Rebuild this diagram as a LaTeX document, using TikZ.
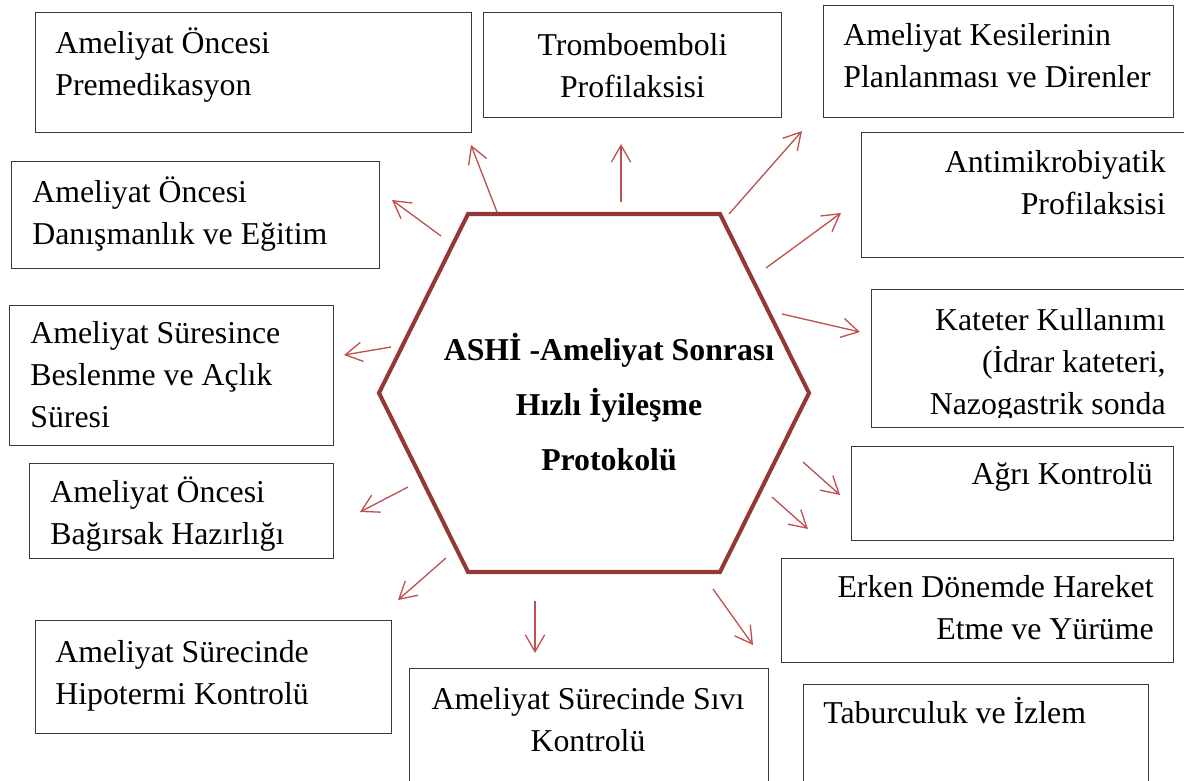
\documentclass[tikz,border=0pt]{standalone}
\usepackage{fontspec}
\setmainfont{Liberation Serif}
\usepackage{tikz}
\usetikzlibrary{arrows.meta,positioning}
\definecolor{okkirmizi}{HTML}{C0504D}
\definecolor{altigen}{HTML}{953735}
\definecolor{cerceve}{HTML}{3A3A3A}

\tikzset{
  kutu/.style={draw=cerceve,line width=0.6pt,anchor=north west,inner sep=0pt},
  yazi/.style={inner sep=0pt,font=\fontsize{18.1}{23.8}\selectfont},
  ok/.style={draw=okkirmizi,line width=0.75pt,-{Straight Barb[length=9.6pt,width=11pt]}}
}

\begin{document}
\begin{tikzpicture}[x=0.02cm,y=-0.02cm]
\useasboundingbox (0,0) rectangle (1184,781);

% kutular
\node[kutu,minimum width=8.72cm,minimum height=2.4cm] (premed) at (35,12) {};
\node[kutu,minimum width=5.96cm,minimum height=2.1cm] (trombo) at (483,12) {};
\node[kutu,minimum width=7cm,minimum height=2.24cm] (kesi) at (823,5) {};
\node[kutu,minimum width=6.58cm,minimum height=2.5cm] (antimik) at (861,132) {};
\node[kutu,minimum width=6.38cm,minimum height=2.76cm] (kateter) at (871,289) {};
\node[kutu,minimum width=6.44cm,minimum height=1.88cm] (agri) at (851,446) {};
\node[kutu,minimum width=7.84cm,minimum height=2.08cm] (erken) at (781,558) {};
\node[kutu,minimum width=6.9cm,minimum height=2.4cm] (tabur) at (803,684) {};
\node[kutu,minimum width=7.18cm,minimum height=2.6cm] (sivi) at (409,668) {};
\node[kutu,minimum width=7.12cm,minimum height=2.26cm] (hipo) at (35,620) {};
\node[kutu,minimum width=6.08cm,minimum height=1.9cm] (bagir) at (29,463) {};
\node[kutu,minimum width=6.48cm,minimum height=2.8cm] (besle) at (9,305) {};
\node[kutu,minimum width=7.36cm,minimum height=2.14cm] (danis) at (11,161) {};

% yazilar (base = son satir)
\node[yazi,anchor=base west,align=left] (premed-y) at ([shift={(20,83)}]premed.north west) {Ameliyat Öncesi\\Premedikasyon};
\node[yazi,anchor=base,align=center] (trombo-y) at ([shift={(0,85)}]trombo.north) {Tromboemboli\\Profilaksisi};
\node[yazi,anchor=base west,align=left] (kesi-y) at ([shift={(20,82)}]kesi.north west) {Ameliyat Kesilerinin\\Planlanması ve Direnler};
\node[yazi,anchor=base east,align=right] (antimik-y) at ([shift={(-25,82)}]antimik.north east) {Antimikrobiyatik\\Profilaksisi};
\begin{scope}
\clip (kateter.north west) rectangle (1190,417);
\node[yazi,anchor=base east,align=right] (kateter-y) at ([shift={(-25,125)}]kateter.north east) {Kateter Kullanımı\\(İdrar kateteri,\\Nazogastrik sonda};
\end{scope}
\node[yazi,anchor=base east,align=right] (agri-y) at ([shift={(-21,38)}]agri.north east) {Ağrı Kontrolü};
\node[yazi,anchor=base east,align=right] (erken-y) at ([shift={(-20,81)}]erken.north east) {Erken Dönemde Hareket\\Etme ve Yürüme};
\node[yazi,anchor=base west,align=left] (tabur-y) at ([shift={(20,39)}]tabur.north west) {Taburculuk ve İzlem};
\node[yazi,anchor=base,align=center] (sivi-y) at ([shift={(-1,83)}]sivi.north) {Ameliyat Sürecinde Sıvı\\Kontrolü};
\node[yazi,anchor=base west,align=left] (hipo-y) at ([shift={(20,84)}]hipo.north west) {Ameliyat Sürecinde\\Hipotermi Kontrolü};
\node[yazi,anchor=base west,align=left] (bagir-y) at ([shift={(21,81)}]bagir.north west) {Ameliyat Öncesi\\Bağırsak Hazırlığı};
\node[yazi,anchor=base west,align=left] (besle-y) at ([shift={(21,122)}]besle.north west) {Ameliyat Süresince\\Beslenme ve Açlık\\Süresi};
\node[yazi,anchor=base west,align=left] (danis-y) at ([shift={(21,83)}]danis.north west) {Ameliyat Öncesi\\Danışmanlık ve Eğitim};

% altigen
\draw[altigen,line width=2.3pt,line join=miter]
  (468,214) coordinate (a1) -- (720,214) coordinate (a2) -- (809,393) coordinate (a3)
  -- (720,572) coordinate (a4) -- (468,572) coordinate (a5) -- (379,393) coordinate (a6) -- cycle;
\node[inner sep=0pt,anchor=base,align=center,font=\fontsize{18.1}{31.2}\selectfont\bfseries] (merkez) at (609,470)
  {ASHİ -Ameliyat Sonrası\\Hızlı İyileşme\\Protokolü};

% oklar
\foreach \ad/\bx/\by/\ux/\uy in {premed/497/212/471/145, trombo/621/202/621/144,
    kesi/729/214/802/131, antimik/766/268/841/213, kateter/782/314/860/332,
    agri/803/462/840/495, erken/772/497/808/529, tabur/713/589/753/645,
    sivi/535/601/535/653, hipo/446/558/398/600, bagir/408/487/360/512,
    besle/391/347/344/355, danis/441/236/392/200}{
  \coordinate (\ad-bas) at (\bx,\by);
  \coordinate (\ad-uc) at (\ux,\uy);
  \draw[ok] (\ad-bas) -- (\ad-uc);
}
\end{tikzpicture}
\end{document}
